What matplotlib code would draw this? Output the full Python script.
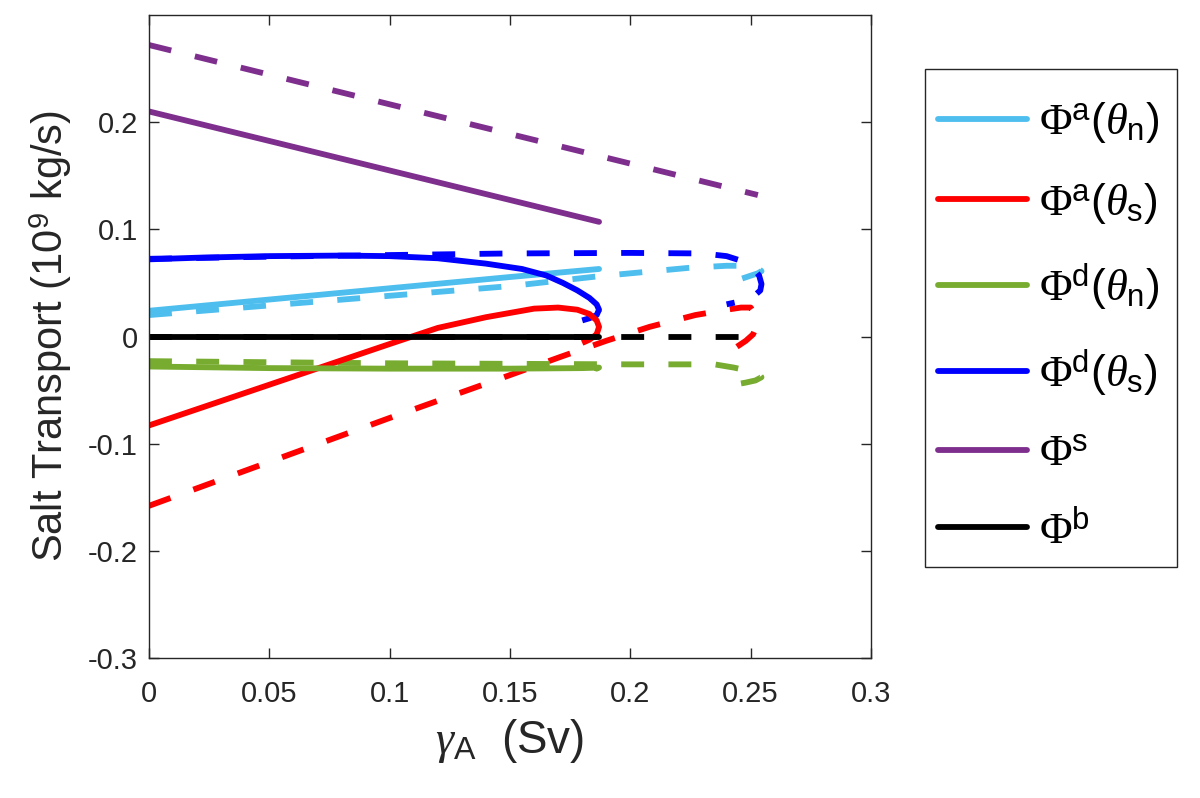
import numpy as np
import matplotlib
matplotlib.use("Agg")
import matplotlib.pyplot as plt
from matplotlib.patches import Rectangle

# ---- data (gamma_A in Sv, transport in 1e9 kg/s) ----
# solid branch (up to first fold near 0.187)
an_x = [0, 0.05, 0.1, 0.15, 0.187]
an_y = [0.024, 0.0345, 0.045, 0.0555, 0.063]
as_x = [0, 0.05, 0.1, 0.12, 0.14, 0.16, 0.17, 0.178, 0.183, 0.186, 0.187, 0.186]
as_y = [-0.083, -0.045, -0.007, 0.008, 0.018, 0.026, 0.027, 0.025, 0.021, 0.015, 0.009, 0.002]
dn_x = [0, 0.05, 0.1, 0.15, 0.18, 0.187, 0.186]
dn_y = [-0.028, -0.0295, -0.030, -0.030, -0.0295, -0.029, -0.030]
ds_x = [0, 0.02, 0.05, 0.08, 0.1, 0.12, 0.14, 0.155, 0.165, 0.172, 0.178, 0.183, 0.186, 0.187]
ds_y = [0.072, 0.0735, 0.075, 0.0755, 0.075, 0.073, 0.068, 0.063, 0.057, 0.050, 0.043, 0.036, 0.030, 0.025]
s_x = [0, 0.187]
s_y = [0.21, 0.107]
b_x = [0, 0.187]
b_y = [0, 0]

# short continuation after first fold (dashed)
as_hook_x = [0.186, 0.183, 0.180]
as_hook_y = [0.002, -0.003, -0.006]
ds_hook_x = [0.187, 0.186, 0.183, 0.180]
ds_hook_y = [0.025, 0.020, 0.017, 0.015]

# dashed branch (up to second fold near 0.254)
an2_x = [0, 0.05, 0.1, 0.15, 0.186, 0.205, 0.224, 0.240, 0.248, 0.253, 0.2545, 0.253, 0.249, 0.245]
an2_y = [0.020, 0.029, 0.038, 0.047, 0.056, 0.060, 0.064, 0.066, 0.066, 0.064, 0.061, 0.059, 0.056, 0.053]
as2_x = [0, 0.05, 0.1, 0.15, 0.171, 0.19, 0.208, 0.227, 0.24, 0.246, 0.25, 0.2515, 0.2525, 0.251, 0.248, 0.244]
as2_y = [-0.158, -0.117, -0.076, -0.036, -0.019, -0.004, 0.009, 0.020, 0.025, 0.027, 0.027, 0.022, 0.010, 0.002, -0.004, -0.010]
dn2_x = [0, 0.05, 0.1, 0.15, 0.2, 0.235, 0.243, 0.249, 0.2535, 0.2545, 0.252, 0.248, 0.243]
dn2_y = [-0.023, -0.024, -0.025, -0.0255, -0.026, -0.026, -0.029, -0.032, -0.035, -0.038, -0.041, -0.043, -0.045]
ds2_x = [0, 0.05, 0.1, 0.15, 0.2, 0.23, 0.24, 0.247, 0.251, 0.2535, 0.2545, 0.254, 0.251, 0.246, 0.240]
ds2_y = [0.0725, 0.0745, 0.076, 0.0775, 0.078, 0.0775, 0.075, 0.070, 0.064, 0.057, 0.049, 0.043, 0.037, 0.033, 0.030]
s2_x = [0, 0.253]
s2_y = [0.272, 0.132]
b2_x = [0, 0.252]
b2_y = [0, 0]

labels = [r'$\Phi^{\mathsf{a}}\mathsf{(}\theta_{\mathsf{n}}\mathsf{)}$',
          r'$\Phi^{\mathsf{a}}\mathsf{(}\theta_{\mathsf{s}}\mathsf{)}$',
          r'$\Phi^{\mathsf{d}}\mathsf{(}\theta_{\mathsf{n}}\mathsf{)}$',
          r'$\Phi^{\mathsf{d}}\mathsf{(}\theta_{\mathsf{s}}\mathsf{)}$',
          r'$\Phi^{\mathsf{s}}$',
          r'$\Phi^{\mathsf{b}}$']
colors = ['#4DBEEE', '#FF0000', '#77AC30', '#0000FF', '#7E2F8E', '#000000']

xticks = [0, 0.05, 0.1, 0.15, 0.2, 0.25, 0.3]
xticklabels = ['0', '0.05', '0.1', '0.15', '0.2', '0.25', '0.3']
yticks = [-0.3, -0.2, -0.1, 0, 0.1, 0.2]
yticklabels = ['-0.3', '-0.2', '-0.1', '0', '0.1', '0.2']

plt.rcParams['font.family'] = ['Liberation Sans', 'DejaVu Sans']
plt.rcParams['mathtext.fontset'] = 'custom'
plt.rcParams['mathtext.rm'] = 'Liberation Serif'
plt.rcParams['mathtext.it'] = 'Liberation Serif:italic'
plt.rcParams['mathtext.bf'] = 'Liberation Serif:bold'
plt.rcParams['mathtext.sf'] = 'Liberation Sans'
plt.rcParams['lines.scale_dashes'] = False

axcol = '#262626'
lw = 4.2
dash = (16.5, 17.5)
W, H = 1200, 798

fig = plt.figure(figsize=(12, 7.98), dpi=100)
ax = fig.add_axes([149/W, 1-658/H, (871-149)/W, (658-15)/H])

solid = [(an_x, an_y), (as_x, as_y), (dn_x, dn_y), (ds_x, ds_y), (s_x, s_y), (b_x, b_y)]
dashed = [(an2_x, an2_y), (as2_x, as2_y), (dn2_x, dn2_y), (ds2_x, ds2_y), (s2_x, s2_y), (b2_x, b2_y)]

# dashed branches first, solid on top
for (x, y), c in zip(dashed, colors):
    ax.plot(x, y, color=c, lw=lw, ls=(0, dash), dash_capstyle='butt')
ax.plot(as_hook_x, as_hook_y, color=colors[1], lw=lw, ls=(0, dash), dash_capstyle='butt')
ax.plot(ds_hook_x, ds_hook_y, color=colors[3], lw=lw, ls=(0, dash), dash_capstyle='butt')

handles = []
for (x, y), c, lab in zip(solid, colors, labels):
    h, = ax.plot(x, y, color=c, lw=lw, solid_capstyle='round', solid_joinstyle='round', label=lab)
    handles.append(h)

ax.set_xlim(0, 0.3)
ax.set_ylim(-0.3, 0.3)
ax.set_xticks(xticks)
ax.set_xticklabels(xticklabels)
ax.set_yticks(yticks)
ax.set_yticklabels(yticklabels)
ax.tick_params(direction='in', length=7, width=1, colors=axcol, labelsize=21,
               top=True, right=True)
ax.tick_params(axis='x', pad=16)
ax.tick_params(axis='y', pad=8)
for sp in ax.spines.values():
    sp.set_color(axcol)
    sp.set_linewidth(1)

ax.set_xlabel(r'$\gamma_{\mathsf{A}}$  (Sv)', fontsize=33, color=axcol, labelpad=6)
ax.set_ylabel(r'Salt Transport (10$^{\mathsf{9}}$ kg/s)', fontsize=30, color=axcol, labelpad=10)

# legend box drawn separately (MATLAB leaves more room above the first entry)
fig.patches.append(Rectangle((925/W, 1-567/H), (1177-925)/W, (567-69)/H,
                             transform=fig.transFigure, fill=False,
                             edgecolor=axcol, linewidth=1))
fig.legend(handles=handles, loc='upper left', bbox_to_anchor=(925/W, 1-87/H),
           fontsize=32, frameon=False, borderaxespad=0,
           handlelength=2.0, handletextpad=0.27, labelspacing=0.8,
           borderpad=0.3)

fig.savefig('out.png', dpi=100)
